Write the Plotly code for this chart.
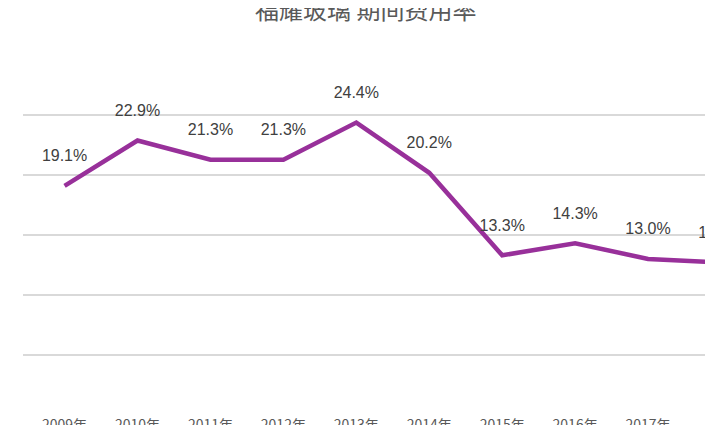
import plotly.graph_objects as go

years = ["2009年","2010年","2011年","2012年","2013年","2014年","2015年","2016年","2017年","2018年"]
rates = [19.1, 22.9, 21.3, 21.3, 24.4, 20.2, 13.3, 14.3, 13.0, 12.7]
labels = [f"{v:.1f}%<br> " for v in rates]

fig = go.Figure(go.Scatter(
    x=list(range(len(years))), y=rates, mode="lines+text",
    text=labels, textposition="top center",
    textfont=dict(size=16, color="#404040", family="Liberation Sans"),
    line=dict(color="#98309a", width=4.5), cliponaxis=False))

fig.update_layout(
    width=713, height=425, margin=dict(l=15, r=0, t=47, b=18, autoexpand=False),
    plot_bgcolor="white", paper_bgcolor="white", showlegend=False,
    font=dict(family="Noto Sans CJK SC", color="#595959"),
    xaxis=dict(range=[-0.57, 9], tickvals=list(range(len(years))), ticktext=years,
               showgrid=False, zeroline=False, showline=False, tickfont=dict(size=14),
               automargin=False),
    yaxis=dict(range=[-0.05, 30.05], tickvals=[0, 5, 10, 15, 20, 25, 30], showgrid=True,
               gridcolor="#d9d9d9", gridwidth=1.5, zeroline=False, showticklabels=False,
               automargin=False),
)
fig.add_annotation(text="福耀玻璃 期间费用率", xref="paper", yref="paper", x=0.49, y=1.13,
                   showarrow=False, font=dict(size=24, color="#595959"), yanchor="middle")
fig.write_html("out.html")
